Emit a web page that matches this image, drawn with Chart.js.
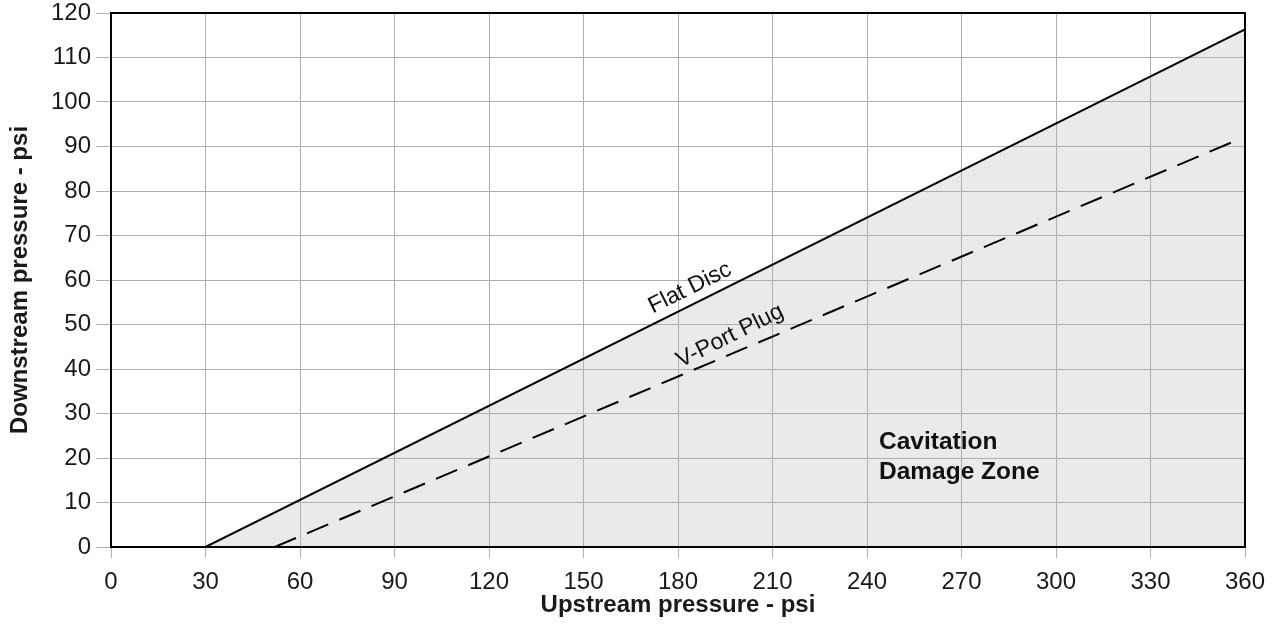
<!DOCTYPE html>
<html><head><meta charset="utf-8">
<script src="https://cdn.jsdelivr.net/npm/chart.js@4/dist/chart.umd.min.js"></script>
<style>html,body{margin:0;padding:0;background:#fff}#wrap{width:1275px;height:625px}</style>
</head><body><div id="wrap"><canvas id="c" width="1275" height="625"></canvas></div>
<script>
const flatDiscX = [30, 360];
const flatDiscY = [0, 116.3];
const vPortX = [52, 358];
const vPortY = [0, 91.6];
const xTicks = [0,30,60,90,120,150,180,210,240,270,300,330,360];
const yTicks = [0,10,20,30,40,50,60,70,80,90,100,110,120];
const labels = [
  {text:'Flat Disc', x:183.8, y:58.2},
  {text:'V-Port Plug', x:196.5, y:47.4}
];
const zoneText = ['Cavitation','Damage Zone'];
const zonePos = {x:243.8, y:[23.6,16.9]};

const FONT = "'Liberation Sans', Arial, sans-serif";
const txt = '#1a1a1a';

const annot = {
  id:'annot',
  afterDraw(chart){
    const {ctx, chartArea:a, scales:{x,y}} = chart;
    ctx.save();
    ctx.strokeStyle='#000'; ctx.lineWidth=2;
    ctx.strokeRect(a.left, a.top, a.right-a.left, a.bottom-a.top);
    ctx.fillStyle='#111';
    ctx.font = '23px '+FONT;
    const dx=x.getPixelForValue(flatDiscX[1])-x.getPixelForValue(flatDiscX[0]);
    const dy=y.getPixelForValue(flatDiscY[1])-y.getPixelForValue(flatDiscY[0]);
    const ang=Math.atan2(dy,dx);
    labels.forEach(l=>{
      const px=x.getPixelForValue(l.x), py=y.getPixelForValue(l.y);
      ctx.save(); ctx.translate(px,py); ctx.rotate(ang);
      ctx.textAlign='center'; ctx.textBaseline='middle';
      ctx.fillText(l.text,0,0); ctx.restore();
    });
    ctx.font = 'bold 24.5px '+FONT;
    ctx.textAlign='left'; ctx.textBaseline='middle';
    zoneText.forEach((t,i)=>ctx.fillText(t, x.getPixelForValue(zonePos.x), y.getPixelForValue(zonePos.y[i])));
    ctx.restore();
  }
};

new Chart(document.getElementById('c'), {
  type:'scatter',
  data:{datasets:[
    {label:'Flat Disc', data:flatDiscX.map((v,i)=>({x:v,y:flatDiscY[i]})), showLine:true,
     borderColor:'#000', borderWidth:2, pointRadius:0, fill:'origin', backgroundColor:'#e9eaec', tension:0},
    {label:'V-Port Plug', data:vPortX.map((v,i)=>({x:v,y:vPortY[i]})), showLine:true,
     borderColor:'#000', borderWidth:2, borderDash:[23,12], pointRadius:0, fill:false}
  ]},
  options:{
    responsive:false, animation:false,
    layout:{padding:{left:0,top:13,right:30,bottom:0}},
    plugins:{legend:{display:false}, tooltip:{enabled:false}, filler:{drawTime:'beforeDraw'}},
    scales:{
      x:{type:'linear', min:0, max:360,
        afterBuildTicks(s){s.ticks=xTicks.map(v=>({value:v}));},
        afterFit(s){s.height=78; s.paddingLeft=0; s.paddingRight=0;},
        grid:{color:'#b0b0b0', lineWidth:1, tickLength:11, drawTicks:true},
        border:{display:false},
        ticks:{color:txt, font:{family:FONT,size:24}, padding:10, maxRotation:0},
        title:{display:true, text:'Upstream pressure - psi', color:txt, font:{family:FONT,size:24,weight:'bold'}, padding:{top:0,bottom:5}}
      },
      y:{type:'linear', min:0, max:120,
        afterBuildTicks(s){s.ticks=yTicks.map(v=>({value:v}));},
        afterFit(s){s.width=111; s.paddingTop=0; s.paddingBottom=0;},
        grid:{color:'#b0b0b0', lineWidth:1, tickLength:15},
        border:{display:false},
        ticks:{color:txt, font:{family:FONT,size:24}, padding:5},
        title:{display:true, text:'Downstream pressure - psi', color:txt, font:{family:FONT,size:24,weight:'bold'}, padding:{top:6,bottom:0}}
      }
    }
  },
  plugins:[annot]
});
</script></body></html>
